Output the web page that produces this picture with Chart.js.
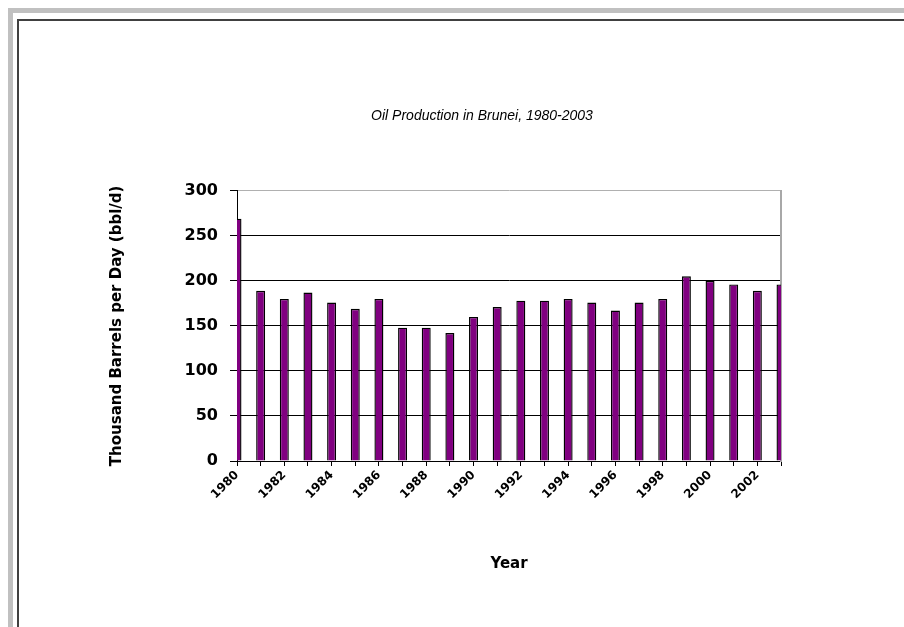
<!DOCTYPE html>
<html>
<head>
<meta charset="utf-8">
<title>Oil Production in Brunei, 1980-2003</title>
<script src="https://cdn.jsdelivr.net/npm/chart.js@4.4.1/dist/chart.umd.min.js"></script>
<style>
  html, body { margin: 0; padding: 0; background: #ffffff; }
  body { width: 904px; height: 627px; position: relative; overflow: hidden; }
  /* window-like frame around the chart (only top/left are visible in the crop) */
  .frame-outer {
    position: absolute; left: 8px; top: 8px; right: -20px; bottom: -20px;
    border-left: 5px solid #c0c0c0; border-top: 5px solid #c0c0c0;
  }
  .frame-inner {
    position: absolute; left: 17px; top: 19px; right: -20px; bottom: -20px;
    border-left: 2px solid #404040; border-top: 2px solid #404040;
  }
  #chart { position: absolute; left: 0; top: 0; }
</style>
</head>
<body>
<div class="frame-outer"></div>
<div class="frame-inner"></div>
<canvas id="chart" width="904" height="627"></canvas>

<script>
// ===== DATA =====
const years = [
  "1980", "1981", "1982", "1983", "1984", "1985", "1986", "1987",
  "1988", "1989", "1990", "1991", "1992", "1993", "1994", "1995",
  "1996", "1997", "1998", "1999", "2000", "2001", "2002", "2003"
];
const production = [
  269, 189, 180, 187, 176, 169, 180, 148,
  148, 142, 160, 171, 178, 178, 180, 176,
  167, 176, 180, 205, 200, 196, 189, 196
];
const yTicks = [0, 50, 100, 150, 200, 250, 300];

const chartTitle = "Oil Production in Brunei, 1980-2003";
const yTitle = "Thousand Barrels per Day (bbl/d)";
const xTitle = "Year";

/* =========================
   CHART
========================= */
const ctx = document.getElementById("chart").getContext("2d");

new Chart(ctx, {
  type: "bar",
  data: {
    labels: years,
    datasets: [
      {
        label: "Oil production",
        data: production,
        backgroundColor: "#800080",
        borderColor: "#000000",
        borderWidth: 1.4,
        categoryPercentage: 1,
        barPercentage: 0.38,
        clip: 0
      }
    ]
  },
  options: {
    responsive: false,
    animation: false,
    layout: {
      padding: { left: 100, right: 40, top: 108, bottom: 40 }
    },
    plugins: {
      legend: { display: false },
      tooltip: { enabled: false },
      title: {
        display: true,
        text: chartTitle,
        color: "#000000",
        font: { family: "Liberation Sans", size: 14, style: "italic", weight: "normal" },
        padding: { top: 0, bottom: 66 }
      }
    },
    scales: {
      x: {
        offset: false,
        grid: {
          offset: false,
          drawOnChartArea: false,
          drawTicks: true,
          tickLength: 5,
          tickColor: "#000000"
        },
        border: { display: true, color: "#000000", width: 1 },
        ticks: {
          autoSkip: false,
          minRotation: 45,
          maxRotation: 45,
          padding: 2,
          color: "#000000",
          font: { family: "DejaVu Sans", size: 12, weight: "bold" },
          callback: function (value, index) {
            return index % 2 === 0 ? this.getLabelForValue(value) : "";
          }
        },
        title: {
          display: true,
          text: xTitle,
          color: "#000000",
          font: { family: "DejaVu Sans", size: 15, weight: "bold" },
          padding: { top: 0, bottom: 14 }
        },
        afterFit: (scale) => { scale.height = 126; }
      },
      y: {
        min: 0,
        max: 300,
        afterBuildTicks: (scale) => {
          scale.ticks = yTicks.map(v => ({ value: v }));
        },
        grid: {
          color: (c) => (c.tick && c.tick.value === 300 ? "#b0b0b0" : "#000000"),
          lineWidth: 1,
          drawTicks: true,
          tickLength: 7,
          tickColor: "#000000"
        },
        border: { display: true, color: "#000000", width: 1 },
        ticks: {
          padding: 12,
          color: "#000000",
          font: { family: "DejaVu Sans", size: 16, weight: "bold" }
        },
        title: {
          display: true,
          text: yTitle,
          color: "#000000",
          font: { family: "DejaVu Sans", size: 15, weight: "bold" },
          padding: { top: 8, bottom: 0 }
        },
        afterFit: (scale) => { scale.width = 137; }
      },
      // right edge of the plot area (grey border)
      yRight: {
        position: "right",
        min: 0,
        max: 300,
        grid: { display: false, drawTicks: false },
        ticks: { display: false },
        border: { display: true, color: "#a8a8a8", width: 2 },
        afterFit: (scale) => { scale.width = 83; }
      }
    }
  }
});
</script>
</body>
</html>
